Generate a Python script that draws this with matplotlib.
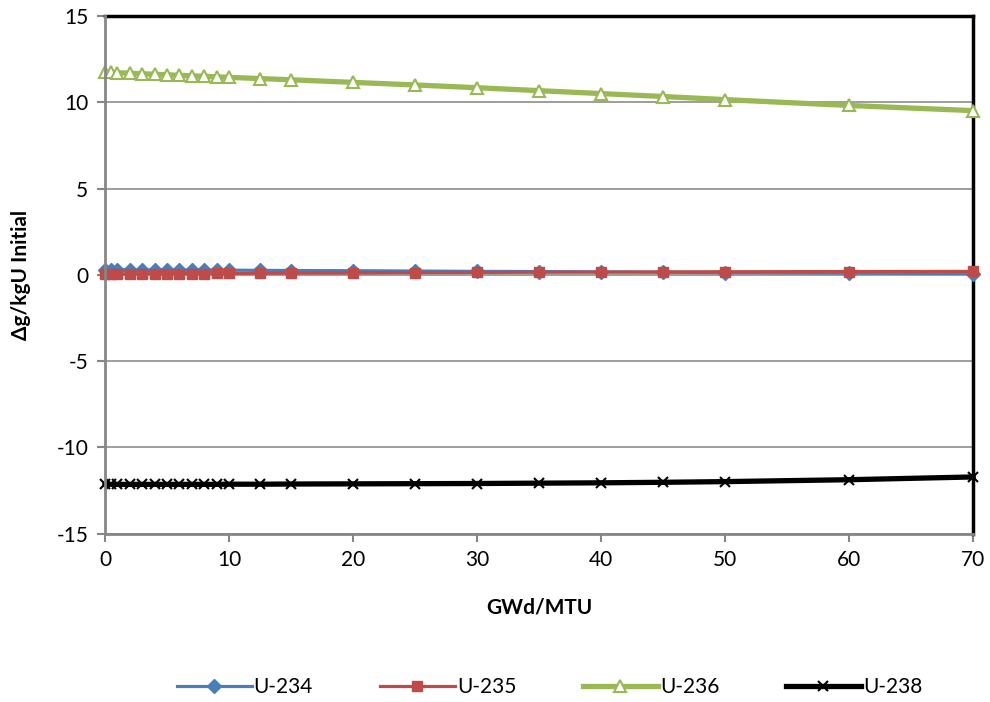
import numpy as np
import matplotlib.pyplot as plt

plt.rcParams['font.family'] = ['Lato', 'DejaVu Sans']
plt.rcParams['axes.unicode_minus'] = False

burnup = [0, 0.5, 1, 2, 3, 4, 5, 6, 7, 8, 9, 10, 12.5, 15, 20, 25, 30, 35, 40, 45, 50, 60, 70]
u234 = [0.30, 0.30, 0.30, 0.30, 0.29, 0.29, 0.29, 0.28, 0.28, 0.28, 0.27, 0.27, 0.26, 0.25,
        0.24, 0.22, 0.20, 0.19, 0.17, 0.15, 0.13, 0.10, 0.07]
u235 = [0.05, 0.05, 0.05, 0.05, 0.06, 0.06, 0.06, 0.07, 0.07, 0.07, 0.08, 0.08, 0.09, 0.10,
        0.11, 0.13, 0.14, 0.15, 0.16, 0.17, 0.18, 0.19, 0.20]
u236 = [11.75, 11.74, 11.72, 11.69, 11.66, 11.63, 11.60, 11.57, 11.54, 11.51, 11.48, 11.45,
        11.38, 11.31, 11.16, 11.01, 10.85, 10.68, 10.51, 10.34, 10.16, 9.82, 9.52]
u238 = [-12.15, -12.15, -12.15, -12.15, -12.15, -12.15, -12.15, -12.15, -12.15, -12.15, -12.15,
        -12.14, -12.14, -12.13, -12.12, -12.11, -12.10, -12.08, -12.06, -12.03, -11.99, -11.88, -11.72]

fig = plt.figure(figsize=(9.9, 7.02), dpi=100)
ax = fig.add_axes([0.106, 0.240, 0.877, 0.737])

ax.plot(burnup, u234, color='#4a7ebb', lw=2.3, marker='D', ms=7, label='U-234', zorder=3, clip_on=False)
ax.plot(burnup, u235, color='#be4b48', lw=2.3, marker='s', ms=7.5, label='U-235', zorder=4, clip_on=False)
ax.plot(burnup, u236, color='#98b954', lw=3.8, marker='^', ms=9, mfc='white',
        mec='#98b954', mew=1.5, label='U-236', zorder=3, clip_on=False)
ax.plot(burnup, u238, color='black', lw=3.8, marker='x', ms=7, mew=1.5, label='U-238', zorder=3, clip_on=False)

ax.set_xlim(0, 70)
ax.set_ylim(-15, 15)
ax.set_xticks(np.arange(0, 71, 10))
ax.set_yticks(np.arange(-15, 16, 5))
ax.yaxis.grid(True, color='#8c8c8c', lw=1.2)
ax.set_axisbelow(True)

for side in ['top', 'right']:
    ax.spines[side].set_color('black')
    ax.spines[side].set_linewidth(2.5)
for side in ['left', 'bottom']:
    ax.spines[side].set_color('#868686')
    ax.spines[side].set_linewidth(2)
    ax.spines[side].set_zorder(5)
ax.tick_params(axis='both', direction='out', length=6, width=1.5, color='#868686',
               labelsize=15, pad=6)

ax.set_xlabel('GWd/MTU', fontsize=15, fontweight='bold', labelpad=20)
ax.set_ylabel('Δg/kgU Initial', fontsize=15, fontweight='bold', labelpad=18)

fig.legend(loc='lower center', bbox_to_anchor=(0.555, -0.02), ncol=4, frameon=False,
           fontsize=15, handlelength=3.6, handletextpad=0.1, columnspacing=3.2)

fig.savefig('out.png', dpi=100)
